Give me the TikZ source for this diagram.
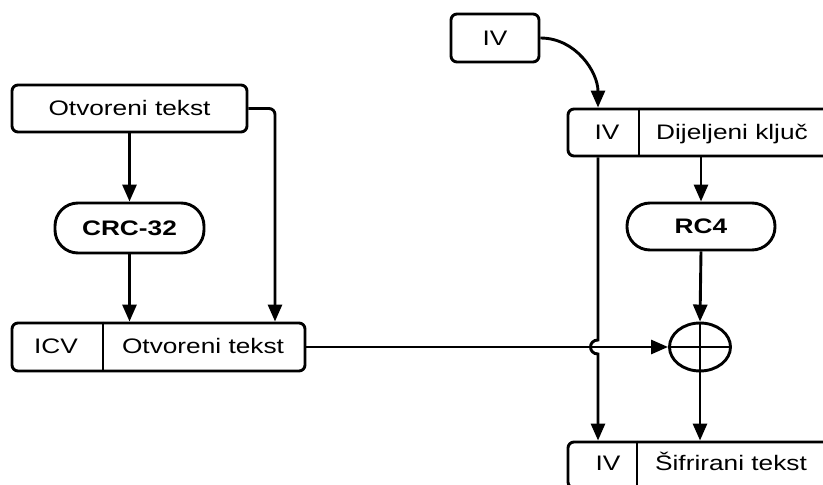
\documentclass[tikz,border=0pt]{standalone}
\usepackage{fontspec}
\setmainfont{Liberation Sans}[FakeStretch=1.25]
\usetikzlibrary{arrows.meta,shapes.geometric}
\begin{document}
\begin{tikzpicture}[x=1pt,y=1pt,
  lw/.style={line width=2.9pt},
  box/.style={draw, lw, rounded corners=6pt, inner sep=0pt, font=\fontsize{21}{25}\selectfont, text height=15pt, text depth=0pt},
  pill/.style={draw, lw, rounded corners=23pt, inner sep=0pt, font=\fontsize{21}{25}\selectfont\bfseries, text height=15pt, text depth=0pt},
  txt/.style={inner sep=0pt, font=\fontsize{21}{25}\selectfont, text height=15pt, text depth=0pt},
  arr/.style={lw, -{Triangle[length=17pt,width=14pt]}}]
\useasboundingbox (0,0) rectangle (823,485);
\clip (0,0) rectangle (823,485);
% left column
\node[box, minimum width=235pt, minimum height=47pt] (ot) at (129.5,376.5) {Otvoreni tekst};
\node[pill, minimum width=149pt, minimum height=50pt] (crc) at (129.5,257) {CRC-32};
\node[box, minimum width=293pt, minimum height=48pt] (icv) at (158.5,138) {};
\coordinate (icvdiv) at (103,138);
\draw[lw] (icvdiv |- icv.north) -- (icvdiv |- icv.south);
\node[txt] (icvA) at (56,139) {ICV};
\node[txt] (icvB) at (203,139) {Otvoreni tekst};
% right column
\node[box, minimum width=88pt, minimum height=48pt] (ivtop) at (495,447) {IV};
\node[box, minimum width=340pt, minimum height=47pt] (dk) at (738,352.5) {};
\coordinate (dkdiv) at (639,352.5);
\draw[lw] (dkdiv |- dk.north) -- (dkdiv |- dk.south);
\node[txt] (dkA) at (607,352.5) {IV};
\node[txt] (dkB) at (732,352.5) {Dijeljeni ključ};
\node[pill, minimum width=148pt, minimum height=47pt] (rc4) at (701,258.5) {RC4};
\node[draw, lw, ellipse, minimum width=61pt, minimum height=48pt, inner sep=0pt] (xor) at (700,138) {};
\draw[lw] (xor.north) -- (xor.south);
\draw[lw] (xor.west) -- (xor.east);
\node[box, minimum width=340pt, minimum height=46pt] (st) at (738,20) {};
\coordinate (stdiv) at (637,20);
\draw[lw] (stdiv |- st.north) -- (stdiv |- st.south);
\node[txt] (stA) at (608,22) {IV};
\node[txt] (stB) at (731,22) {Šifrirani tekst};
% connectors
\coordinate (tap) at (275,138);
\coordinate (ivx) at (598,200);
\coordinate (kx) at (701,300);
\coordinate (hopA) at (598,145);
\coordinate (hopB) at (598,131);
\coordinate (hopC1) at (588,145);
\coordinate (hopC2) at (588,131);
\draw[arr] (ot.south) -- (crc.north);
\draw[arr] (crc.south) -- (crc.south |- icv.north);
\draw[arr, rounded corners=6pt] (ot.east) -| (tap |- icv.north);
\draw[arr] (icv.east) -- (xor.west);
\draw[arr] (ivtop.east) to[out=0,in=90] (ivx |- dk.north);
\draw[arr] (kx |- dk.south) -- (rc4.north);
\draw[arr] (rc4.south) -- (xor.north);
\draw[arr] (xor.south) -- (xor.south |- st.north);
\draw[arr] (ivx |- dk.south) -- (hopA) .. controls (hopC1) and (hopC2) .. (hopB) -- (ivx |- st.north);
\end{tikzpicture}
\end{document}
